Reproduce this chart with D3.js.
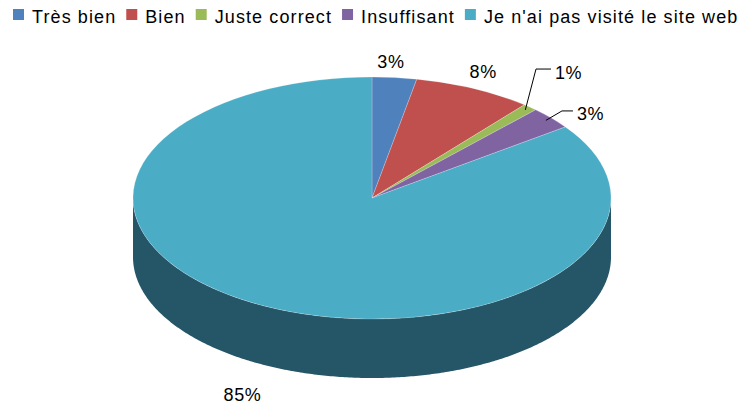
<!DOCTYPE html>
<html>
<head>
<meta charset="utf-8">
<script src="https://cdn.jsdelivr.net/npm/d3@7"></script>
<style>
  body { margin: 0; background: #ffffff; }
  svg text { font-family: "Liberation Sans", Arial, sans-serif; fill: #000; }
</style>
</head>
<body>
<svg id="chart" width="739" height="406"></svg>
<script>
// Survey answers (percent of respondents)
const categories = ["Très bien", "Bien", "Juste correct", "Insuffisant", "Je n'ai pas visité le site web"];
const values = [3, 8, 1, 3, 85];
const valueLabels = ["3%", "8%", "1%", "3%", "85%"];
const topColors = ["#4F81BD", "#C0504D", "#9BBB59", "#8064A2", "#4BACC6"];
const sideColors = ["#2B4A6E", "#6E2C2A", "#57703A", "#473862", "#255668"];

// Label placement: small nudges from the default outside point, and which labels get a leader line
const labelNudge = [[-5.6, 5.4], [0, 2.4], [-8.6, -21.7], [-5.8, 7.5], [-11, 9.6]];
const useLeader = [false, false, true, true, false];

const W = 739, H = 406;
const cx = 372, cy = 198, rx = 239, ry = 121, depth = 59;

const svg = d3.select("#chart");

const pie = d3.pie().sort(null).value(d => d)(values);

// point on the top ellipse at angle a (clockwise from 12 o'clock)
const ept = (a, fx, fy, dy = 0) => [cx + fx * Math.sin(a), cy - fy * Math.cos(a) + dy];

// --- side wall (only the front half, angles pi/2 .. 3pi/2, is visible)
const sideG = svg.append("g");
const line = d3.line();
pie.forEach((s, i) => {
  const a0 = Math.max(s.startAngle, Math.PI / 2);
  const a1 = Math.min(s.endAngle, 3 * Math.PI / 2);
  if (a1 <= a0) return;
  const n = Math.max(2, Math.ceil((a1 - a0) / 0.01));
  const ts = d3.range(n + 1).map(k => a0 + (a1 - a0) * k / n);
  const pts = ts.map(t => ept(t, rx, ry))
    .concat(ts.slice().reverse().map(t => ept(t, rx, ry, depth)));
  sideG.append("path")
    .attr("d", line(pts) + "Z")
    .attr("fill", sideColors[i]);
});

// --- top face: a circular pie squashed into an ellipse
const arc = d3.arc().innerRadius(0).outerRadius(rx);
svg.append("g")
  .attr("transform", `translate(${cx},${cy}) scale(1,${ry / rx})`)
  .selectAll("path")
  .data(pie)
  .join("path")
  .attr("d", arc)
  .attr("fill", (d, i) => topColors[i])
  .attr("stroke", "rgba(255,255,255,0.35)")
  .attr("stroke-width", 0.6)
  .attr("vector-effect", "non-scaling-stroke");

// --- data labels
const lblG = svg.append("g");
pie.forEach((s, i) => {
  const m = (s.startAngle + s.endAngle) / 2;
  const lower = Math.cos(m) < 0 ? depth : 0;
  const base = ept(m, rx + 22, ry + 22, lower);
  const p = [base[0] + labelNudge[i][0], base[1] + labelNudge[i][1]];
  if (useLeader[i]) {
    const start = ept(m, rx * 0.97, ry * 0.97);
    const tailLen = i === 2 ? 15 : 11;
    const end = [p[0] + tailLen, p[1]];
    lblG.append("path")
      .attr("d", line([start, p, end]))
      .attr("fill", "none")
      .attr("stroke", "#000")
      .attr("stroke-width", 1);
    lblG.append("text")
      .attr("x", end[0] + 4)
      .attr("y", end[1] + 9.5)
      .attr("font-size", 18)
      .attr("letter-spacing", 0.6)
      .text(valueLabels[i]);
  } else {
    lblG.append("text")
      .attr("x", p[0])
      .attr("y", p[1] + 6.5)
      .attr("text-anchor", "middle")
      .attr("font-size", 18)
      .attr("letter-spacing", 0.6)
      .text(valueLabels[i]);
  }
});

// --- legend across the top
const leg = svg.append("g");
let lx = 13;
categories.forEach((c, i) => {
  leg.append("rect")
    .attr("x", lx).attr("y", 9)
    .attr("width", 11).attr("height", 11)
    .attr("fill", topColors[i]);
  const t = leg.append("text")
    .attr("x", lx + 19)
    .attr("y", 23)
    .attr("font-size", 18)
    .attr("letter-spacing", 1.1)
    .text(c);
  lx += 19 + t.node().getComputedTextLength() + 10;
});
</script>
</body>
</html>
